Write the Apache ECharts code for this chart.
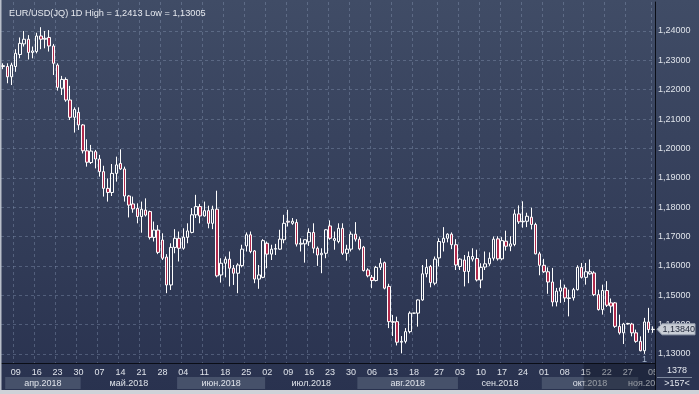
<!DOCTYPE html>
<html><head><meta charset="utf-8">
<script src="https://cdn.jsdelivr.net/npm/echarts@6/dist/echarts.min.js"></script>
<style>html,body{margin:0;padding:0;background:#2b3451;}#c{width:699px;height:394px;}</style>
</head><body><div id="c"></div>
<script>
// ---- data ----
const openV = [
1.2282,1.2279,1.2244,1.2279,1.2320,1.2356,1.2372,1.2327,1.2330,1.2383,
1.2372,1.2378,1.2349,1.2284,1.2205,1.2235,1.2165,1.2106,1.2123,1.2080,
1.1992,1.1952,1.1989,1.1964,1.1921,1.1864,1.1850,1.1915,1.1949,1.1930,
1.1838,1.1811,1.1796,1.1768,1.1790,1.1785,1.1697,1.1722,1.1688,1.1630,
1.1535,1.1663,1.1694,1.1660,1.1697,1.1714,1.1774,1.1802,1.1770,1.1788,
1.1745,1.1793,1.1569,1.1609,1.1623,1.1592,1.1575,1.1601,1.1668,1.1706,
1.1651,1.1555,1.1561,1.1677,1.1640,1.1657,1.1657,1.1689,1.1752,1.1745,
1.1748,1.1674,1.1675,1.1682,1.1714,1.1660,1.1638,1.1643,1.1736,1.1687,
1.1683,1.1728,1.1643,1.1657,1.1708,1.1691,1.1664,1.1586,1.1561,1.1550,
1.1595,1.1611,1.1530,1.1410,1.1410,1.1340,1.1343,1.1376,1.1439,1.1439,
1.1484,1.1573,1.1598,1.1541,1.1627,1.1680,1.1694,1.1708,1.1672,1.1598,
1.1620,1.1581,1.1623,1.1625,1.1552,1.1596,1.1607,1.1626,1.1692,1.1624,
1.1684,1.1667,1.1673,1.1777,1.1750,1.1752,1.1766,1.1741,1.1641,1.1602,
1.1580,1.1545,1.1477,1.1514,1.1525,1.1491,1.1491,1.1519,1.1595,1.1561,
1.1573,1.1576,1.1502,1.1451,1.1516,1.1474,1.1474,1.1394,1.1372,1.1402,
1.1402,1.1372,1.1343,1.1311,1.1409,1.1383];
const closeV = [
1.2279,1.2244,1.2284,1.2324,1.2358,1.2372,1.2327,1.2332,1.2383,1.2372,
1.2375,1.2349,1.2290,1.2208,1.2235,1.2165,1.2106,1.2133,1.2080,1.1992,
1.1953,1.1991,1.1964,1.1921,1.1864,1.1850,1.1915,1.1944,1.1930,1.1838,
1.1807,1.1794,1.1768,1.1793,1.1773,1.1697,1.1722,1.1646,1.1626,1.1535,
1.1663,1.1694,1.1660,1.1698,1.1719,1.1774,1.1802,1.1770,1.1788,1.1745,
1.1793,1.1566,1.1609,1.1623,1.1592,1.1575,1.1603,1.1657,1.1706,1.1649,
1.1555,1.1569,1.1686,1.1640,1.1657,1.1659,1.1691,1.1745,1.1749,1.1752,
1.1674,1.1677,1.1689,1.1714,1.1660,1.1637,1.1643,1.1723,1.1694,1.1693,
1.1728,1.1643,1.1657,1.1708,1.1691,1.1658,1.1584,1.1566,1.1550,1.1595,
1.1609,1.1524,1.1410,1.1408,1.1340,1.1343,1.1376,1.1439,1.1439,1.1484,
1.1573,1.1595,1.1543,1.1623,1.1683,1.1694,1.1708,1.1672,1.1603,1.1623,
1.1581,1.1632,1.1632,1.1552,1.1595,1.1607,1.1626,1.1691,1.1624,1.1686,
1.1667,1.1675,1.1777,1.1750,1.1752,1.1769,1.1741,1.1641,1.1602,1.1580,
1.1545,1.1477,1.1514,1.1525,1.1491,1.1489,1.1519,1.1595,1.1561,1.1580,
1.1580,1.1502,1.1451,1.1516,1.1466,1.1463,1.1394,1.1372,1.1402,1.1404,
1.1372,1.1343,1.1311,1.1409,1.1383,1.1384];
const lowV = [
1.2270,1.2222,1.2216,1.2261,1.2307,1.2347,1.2303,1.2307,1.2324,1.2338,
1.2341,1.2330,1.2250,1.2197,1.2182,1.2159,1.2097,1.2054,1.2063,1.1983,
1.1938,1.1947,1.1932,1.1904,1.1836,1.1819,1.1838,1.1887,1.1927,1.1819,
1.1765,1.1781,1.1745,1.1713,1.1768,1.1690,1.1683,1.1640,1.1620,1.1507,
1.1518,1.1643,1.1615,1.1655,1.1677,1.1711,1.1763,1.1745,1.1768,1.1728,
1.1725,1.1561,1.1543,1.1561,1.1530,1.1535,1.1507,1.1595,1.1649,1.1643,
1.1541,1.1522,1.1558,1.1592,1.1620,1.1637,1.1655,1.1677,1.1734,1.1740,
1.1666,1.1649,1.1611,1.1668,1.1643,1.1600,1.1575,1.1626,1.1689,1.1655,
1.1677,1.1637,1.1618,1.1649,1.1683,1.1653,1.1581,1.1561,1.1524,1.1547,
1.1586,1.1520,1.1388,1.1361,1.1329,1.1302,1.1336,1.1370,1.1438,1.1393,
1.1481,1.1561,1.1527,1.1534,1.1598,1.1649,1.1680,1.1657,1.1586,1.1586,
1.1530,1.1541,1.1615,1.1547,1.1524,1.1586,1.1600,1.1618,1.1618,1.1619,
1.1652,1.1650,1.1667,1.1743,1.1730,1.1732,1.1724,1.1639,1.1568,1.1576,
1.1505,1.1462,1.1462,1.1474,1.1477,1.1428,1.1482,1.1516,1.1557,1.1536,
1.1570,1.1497,1.1448,1.1434,1.1460,1.1440,1.1389,1.1366,1.1334,1.1400,
1.1360,1.1338,1.1309,1.13005,1.1372,1.1372];
const highV = [
1.2290,1.2290,1.2292,1.2338,1.2378,1.2400,1.2386,1.2347,1.2394,1.2413,
1.2400,1.2403,1.2356,1.2290,1.2247,1.2242,1.2213,1.2140,1.2140,1.2083,
1.2031,1.2012,1.1995,1.1978,1.1941,1.1898,1.1947,1.1972,1.1997,1.1938,
1.1841,1.1836,1.1813,1.1819,1.1830,1.1788,1.1751,1.1739,1.1711,1.1640,
1.1677,1.1725,1.1717,1.1728,1.1745,1.1797,1.1842,1.1811,1.1819,1.1805,
1.1805,1.1856,1.1626,1.1632,1.1649,1.1603,1.1609,1.1672,1.1714,1.1717,
1.1654,1.1603,1.1691,1.1683,1.1672,1.1675,1.1723,1.1774,1.1791,1.1763,
1.1759,1.1694,1.1690,1.1728,1.1745,1.1666,1.1660,1.1725,1.1755,1.1717,
1.1745,1.1745,1.1672,1.1717,1.1749,1.1700,1.1668,1.1592,1.1569,1.1600,
1.1626,1.1615,1.1539,1.1433,1.1427,1.1361,1.1388,1.1445,1.1440,1.1486,
1.1603,1.1623,1.1603,1.1632,1.1694,1.1732,1.1711,1.1714,1.1691,1.1626,
1.1637,1.1649,1.1660,1.1655,1.1609,1.1649,1.1646,1.1700,1.1701,1.1698,
1.1720,1.1701,1.1792,1.1806,1.1820,1.1781,1.1798,1.1747,1.1648,1.1624,
1.1595,1.1593,1.1525,1.1553,1.1536,1.1519,1.1525,1.1602,1.1610,1.1610,
1.1622,1.1582,1.1519,1.1536,1.1548,1.1489,1.1477,1.1434,1.1406,1.1406,
1.1406,1.1383,1.1360,1.1423,1.1457,1.1394];

const yTicks = [1.13,1.14,1.15,1.16,1.17,1.18,1.19,1.20,1.21,1.22,1.23,1.24];
const tickIdx = [3,8,13,18,23,28,33,38,43,48,53,58,63,68,73,78,83,88,93,98,104,109,114,119,124,129,134,139,144,149,155];
const tickTxt = ['09','16','23','30','07','14','21','28','04','11','18','25','02','09','16','23','30','06','13','18','27','03','10','17','24','01','08','15','22','27','05'];
const monthStart = [1,19,42,63,85,109,129,152];
const monthNames = ['апр.2018','май.2018','июн.2018','июл.2018','авг.2018','сен.2018','окт.2018','ноя.2018'];
const lastPrice = 1.1384;
const lowMarkIdx = 153;
const titleText = 'EUR/USD(JQ) 1D High = 1,2413 Low = 1,13005';
const barsTotal = '1378';
const barsVisible = '>157<';

// ---- chart ----
const FONT = '"Liberation Sans", Arial, sans-serif';
const FS = 9;
const cats = openV.map((_, i) => String(i));
const candles = openV.map((o, i) => [o, closeV[i], lowV[i], highV[i]]);
const tickMap = new Map(tickIdx.map((k, j) => [k, tickTxt[j]]));
const fmt = v => v.toFixed(5).replace('.', ',');

const chart = echarts.init(document.getElementById('c'), null, {renderer: 'canvas'});
const option = {
  animation: false,
  backgroundColor: {type: 'linear', x: 0, y: 0, x2: 0, y2: 1,
    colorStops: [{offset: 0, color: '#404c66'}, {offset: 1, color: '#29324f'}]},
  title: {text: titleText, left: 4, top: 4,
    textStyle: {color: '#e6e9ef', fontSize: 9.2, fontWeight: 'normal', fontFamily: FONT}},
  grid: {left: 1, right: 44, top: 2, bottom: 31},
  xAxis: {
    type: 'category', data: cats, boundaryGap: true,
    axisLine: {show: true, lineStyle: {color: '#0a0d16', width: 1}},
    axisTick: {show: false},
    axisLabel: {interval: i => tickMap.has(i), formatter: (v, i) => tickMap.get(i) || '',
      color: '#dfe3ea', fontSize: FS, fontFamily: FONT, margin: 5},
    splitLine: {show: true, interval: i => tickMap.has(i),
      lineStyle: {color: 'rgba(150,165,195,0.35)', type: [3, 3], width: 1}}
  },
  yAxis: {
    type: 'value', position: 'right', min: 1.126921, max: 1.249877,
    axisLine: {show: true, lineStyle: {color: '#0a0d16', width: 1}},
    axisTick: {show: false, customValues: yTicks},
    axisLabel: {customValues: yTicks, formatter: v => fmt(v), color: '#dfe3ea',
      fontSize: FS, fontFamily: FONT, margin: 3, align: 'left'},
    splitLine: {show: true, lineStyle: {color: 'rgba(150,165,195,0.35)', type: [3, 3], width: 1}}
  },
  series: [{
    type: 'candlestick', data: candles, barWidth: 3,
    itemStyle: {color: 'rgba(0,0,0,0)', color0: '#b02a4c', borderColor: '#ffffff',
      borderColor0: '#ffffff', borderWidth: 1},
    markPoint: {
      symbol: 'circle', symbolSize: 0,
      data: [{coord: [lowMarkIdx, lowV[lowMarkIdx]],
        label: {show: true, formatter: '1', position: 'bottom', distance: 1,
          color: '#a9b8cf', fontSize: FS, fontFamily: FONT}}]
    }
  }]
};
chart.setOption(option);

// ---- decorations positioned from the axes ----
const cx = i => chart.convertToPixel({xAxisIndex: 0}, i);
const cw = cx(1) - cx(0);
const xL = i => cx(i) - cw / 2;
const plotRight = 655;
const g = [];
monthStart.forEach((s, k) => {
  const x0 = xL(s);
  const x1 = k + 1 < monthStart.length ? xL(monthStart[k + 1]) : plotRight;
  if (k % 2 === 0) {
    g.push({type: 'rect', z: 10, shape: {x: x0, y: 377, width: x1 - x0, height: 12},
      style: {fill: '#46516a'}});
  }
  g.push({type: 'text', z: 11, x: (x0 + x1) / 2, y: 383.5,
    style: {text: monthNames[k], fill: '#dfe3ea', font: FS + 'px ' + FONT, align: 'center', verticalAlign: 'middle'}});
});
// selection overlay on the bottom scale
g.push({type: 'rect', z: 12, shape: {x: xL(139), y: 364, width: plotRight - xL(139), height: 26},
  style: {fill: 'rgba(12,16,30,0.35)'}});
// right bottom box
g.push({type: 'rect', z: 13, shape: {x: 655.5, y: 363.5, width: 44, height: 27}, style: {fill: '#2b3451'}});
g.push({type: 'line', z: 14, shape: {x1: 655.5, y1: 363, x2: 655.5, y2: 390}, style: {stroke: '#0a0d16', lineWidth: 1}});
g.push({type: 'line', z: 14, shape: {x1: 657, y1: 377.5, x2: 692, y2: 377.5}, style: {stroke: '#7d889c', lineWidth: 1}});
g.push({type: 'text', z: 14, x: 677, y: 371, style: {text: barsTotal, fill: '#e3e7ee', font: FS + 'px ' + FONT, align: 'center', verticalAlign: 'middle'}});
g.push({type: 'text', z: 14, x: 677, y: 384, style: {text: barsVisible, fill: '#e3e7ee', font: FS + 'px ' + FONT, align: 'center', verticalAlign: 'middle'}});
// bottom window strip and left border
g.push({type: 'rect', z: 15, shape: {x: 0, y: 390, width: 699, height: 4}, style: {fill: '#cfd2d8'}});
g.push({type: 'rect', z: 15, shape: {x: 0, y: 0, width: 1.5, height: 390}, style: {fill: '#b9bfca'}});
// last price tag
const py = chart.convertToPixel({yAxisIndex: 0}, lastPrice);
g.push({type: 'polygon', z: 16, shape: {points: [[657, py], [662, py - 5.5], [695, py - 5.5], [695, py + 5.5], [662, py + 5.5]]},
  style: {fill: '#c9ced6', stroke: '#9aa3b2', lineWidth: 1}});
g.push({type: 'text', z: 17, x: 662.5, y: py, style: {text: fmt(lastPrice), fill: '#1f2638', font: FS + 'px ' + FONT, align: 'left', verticalAlign: 'middle'}});
chart.setOption({graphic: g});
</script></body></html>
